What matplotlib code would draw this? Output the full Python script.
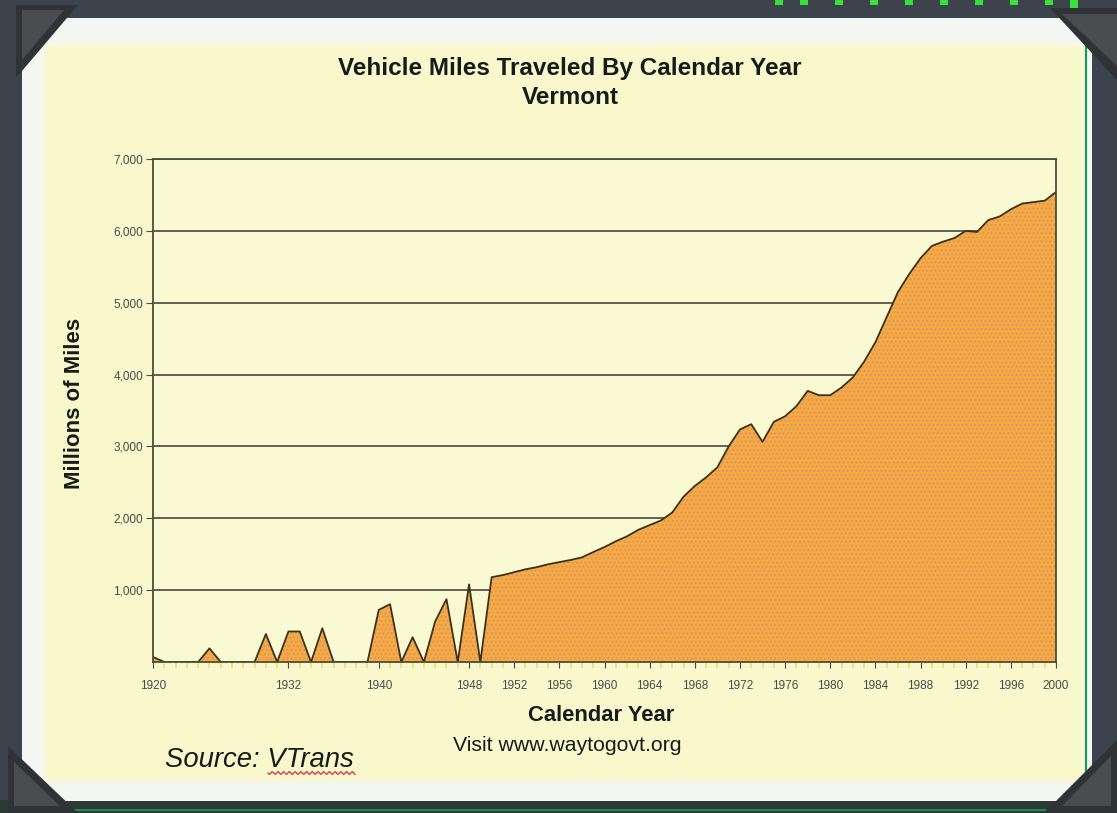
import numpy as np
import matplotlib.pyplot as plt
from matplotlib.patches import Rectangle, Polygon
from matplotlib.lines import Line2D
from matplotlib.ticker import FuncFormatter

plt.rcParams['font.family'] = ['Liberation Sans', 'DejaVu Sans']
plt.rcParams['hatch.linewidth'] = 0.9

# Vermont vehicle miles traveled, millions of miles per calendar year
years = list(range(1920, 2001))
miles = [70, 0, 0, 0, 0, 190, 0, 0, 0, 0,            # 1920s
         390, 0, 425, 425, 0, 470, 0, 0, 0, 0,        # 1930s
         725, 805, 0, 345, 0, 565, 875, 0, 1080, 0,   # 1940s
         1180, 1210, 1250, 1290, 1320, 1360, 1390, 1420, 1456, 1530,  # 1950s
         1600, 1680, 1750, 1840, 1905, 1970, 2080, 2300, 2450, 2570,  # 1960s
         2710, 3000, 3236, 3310, 3064, 3342, 3420, 3560, 3773, 3713,  # 1970s
         3713, 3820, 3960, 4180, 4450, 4800, 5150, 5400, 5620, 5790,  # 1980s
         5850, 5900, 6000, 5985, 6150, 6200, 6300, 6380, 6400, 6420,  # 1990s
         6540]
year_labels = [1920, 1932, 1940, 1948, 1952, 1956, 1960, 1964, 1968, 1972,
               1976, 1980, 1984, 1988, 1992, 1996, 2000]
y_ticks = [1000, 2000, 3000, 4000, 5000, 6000, 7000]

W, H = 1117, 813
fig = plt.figure(figsize=(W / 100, H / 100), dpi=100)
fig.patch.set_facecolor('#3c434c')


def fx(x):
    return x / W


def fy(y):
    return 1 - y / H


def rect(x0, y0, x1, y1, color, z=-2):
    fig.patches.append(Rectangle((fx(x0), fy(y1)), fx(x1) - fx(x0), fy(y0) - fy(y1),
                                 transform=fig.transFigure, facecolor=color,
                                 edgecolor='none', zorder=z))


def poly(pts, color, z=5):
    fig.patches.append(Polygon([(fx(a), fy(b)) for a, b in pts], closed=True,
                               transform=fig.transFigure, facecolor=color,
                               edgecolor='none', zorder=z))


# slide frame, white card and yellow chart area
rect(0, 800, W, H, '#2c3934')
rect(22, 18, 1092, 801, '#f4f6f2')
rect(45, 45, 1084, 781, '#f8f8cc')
fig.lines.append(Line2D([fx(1086), fx(1086)], [fy(45), fy(792)], transform=fig.transFigure,
                        color='#1f9a5a', lw=1.6, zorder=-1))
fig.lines.append(Line2D([fx(75), fx(1045)], [fy(810), fy(810)], transform=fig.transFigure,
                        color='#1f8a50', lw=1.5, zorder=-1))
for gx in [775, 800, 835, 870, 905, 940, 975, 1010, 1045]:
    rect(gx, 0, gx + 8, 5, '#39e03a', z=-1)
rect(1070, 0, 1078, 12, '#39e03a', z=-1)

# photo corners
poly([(16, 5), (78, 5), (16, 78)], '#303336')
poly([(22, 10), (64, 10), (22, 60)], '#494d50')
poly([(1050, 8), (W, 8), (W, 80)], '#303336')
poly([(1062, 14), (W, 14), (W, 66)], '#494d50')
poly([(8, 746), (8, H), (78, H)], '#303336')
poly([(14, 762), (14, 806), (60, 806)], '#494d50')
poly([(W, 740), (W, H), (1044, H)], '#303336')
poly([(1111, 756), (1111, 806), (1062, 806)], '#494d50')

# main chart
ax = fig.add_axes([fx(153), fy(662), fx(1056) - fx(153), fy(159) - fy(662)])
ax.set_zorder(1)
ax.set_facecolor('#fafad2')
ax.fill_between(years, miles, 0, facecolor='#f2ad3c', edgecolor='#e8877c',
                hatch='....', linewidth=0, zorder=2)
ax.plot(years, miles, color='#3a3220', lw=1.3, zorder=3)

ax.set_xlim(1920, 2000)
ax.set_ylim(0, 7000)
ax.set_yticks(y_ticks)
ax.yaxis.set_major_formatter(FuncFormatter(lambda v, p: f'{int(v):,}'))
ax.set_xticks(year_labels)
ax.set_xticklabels([str(y) for y in year_labels])
ax.set_xticks(years, minor=True)
ax.yaxis.grid(True, color='#56564a', lw=1.3)
ax.set_axisbelow(True)
for s in ax.spines.values():
    s.set_color('#4c4c3c')
    s.set_linewidth(1.3)
    s.set_zorder(4)
ax.tick_params(axis='y', length=5, color='#4c4c3c', labelsize=8.5, labelcolor='#4a4a4a', pad=2)
ax.tick_params(axis='x', which='major', length=4, color='#4c4c3c', labelsize=8.5,
               labelcolor='#4a4a4a', pad=9)
ax.tick_params(axis='x', which='minor', length=4, color='#e6e070', width=1.2)

fig.text(fx(570), fy(68), 'Vehicle Miles Traveled By Calendar Year', ha='center', va='center',
         fontsize=17.5, fontweight='bold', color='#1a1a1a')
fig.text(fx(570), fy(97), 'Vermont', ha='center', va='center',
         fontsize=17.5, fontweight='bold', color='#1a1a1a')
fig.text(fx(74), fy(403), 'Millions of Miles', ha='center', va='center', rotation=90,
         fontsize=16, fontweight='bold', color='#1a1a1a')
fig.text(fx(601), fy(715), 'Calendar Year', ha='center', va='center',
         fontsize=15.8, fontweight='bold', color='#1a1a1a')
fig.text(fx(567), fy(745), 'Visit www.waytogovt.org', ha='center', va='center',
         fontsize=15.3, color='#1a1a1a')
fig.text(fx(165), fy(760), 'Source: VTrans', ha='left', va='center',
         fontsize=19.8, fontstyle='italic', color='#1a1a1a')

# spell-check squiggle under the source name
sx = np.linspace(268, 355, 70)
sy = 773 + 1.4 * np.sin((sx - 268) * 1.1)
fig.lines.append(Line2D(fx(sx), fy(sy), transform=fig.transFigure, color='#d8303a', lw=0.9))

fig.savefig('out.png', dpi=100, facecolor=fig.get_facecolor())
